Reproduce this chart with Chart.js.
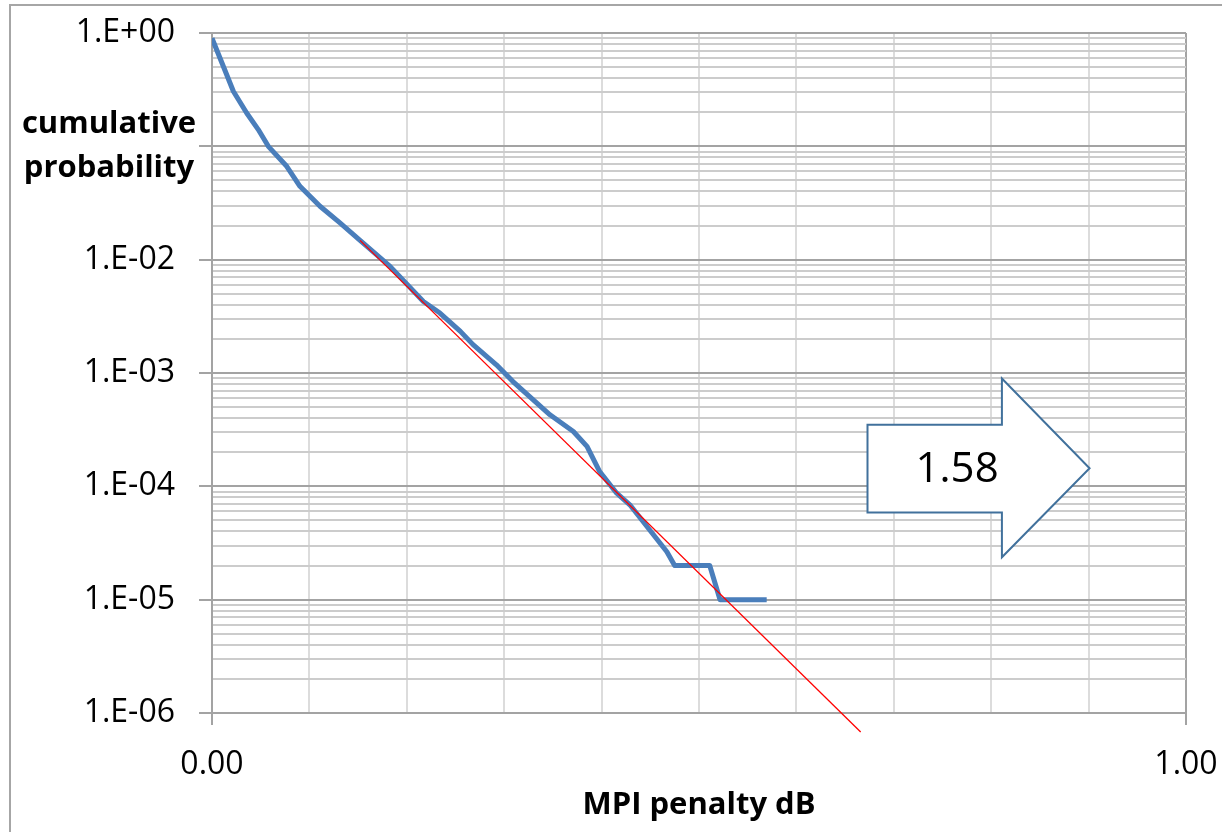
<!DOCTYPE html>
<html>
<head>
<meta charset="utf-8">
<script src="https://cdn.jsdelivr.net/npm/chart.js@4/dist/chart.umd.min.js"></script>
<style>
  html, body { margin: 0; padding: 0; background: #fff; overflow: hidden; }
  #frame { position: absolute; left: 9px; top: 4px; width: 1400px; height: 1000px; border: 2px solid #a6a6a6; }
  #c { position: absolute; left: 0; top: 0; }
</style>
</head>
<body>
<div id="frame"></div>
<canvas id="c" width="1222" height="832"></canvas>
<script>
// ---- data ----
const penaltyDb = [0, 0.0116, 0.0219, 0.0356, 0.0475, 0.0578, 0.0767, 0.0903, 0.1109, 0.1314, 0.152, 0.1828, 0.217, 0.234, 0.255, 0.268, 0.292, 0.309, 0.347, 0.371, 0.385, 0.398, 0.4155, 0.429, 0.467, 0.475, 0.511, 0.5216, 0.5695];
const cumProb = [0.9, 0.509, 0.306, 0.197, 0.1406, 0.1, 0.0667, 0.0444, 0.0296, 0.0211, 0.0148, 0.00873, 0.00428, 0.00338, 0.00233, 0.00178, 0.00118, 0.00084, 0.000428, 0.000305, 0.000225, 0.000135, 8.7e-5, 6.87e-5, 2.65e-5, 2e-5, 2e-5, 1e-5, 1e-5];
const fitX = [0.152, 0.666];
const fitY = [0.0148, 6.8e-7];
const yTickValues = [1e-6, 1e-5, 1e-4, 1e-3, 1e-2, 1e-1, 1];
const yTickLabels = ['1.E-06', '1.E-05', '1.E-04', '1.E-03', '1.E-02', '', '1.E+00'];
const xTickValues = [0, 1];
const xTickLabels = ['0.00', '1.00'];
const yTitleLines = ['cumulative', 'probability'];
const xTitle = 'MPI penalty dB';
const arrowLabel = '1.58';

// ---- helpers ----
const isDecade = v => { const e = Math.log10(v); return Math.abs(e - Math.round(e)) < 1e-6; };
const isXMajor = v => xTickValues.some(t => Math.abs(t - v) < 1e-6);

const FONT = "'Open Sans', 'DejaVu Sans', sans-serif";
Chart.defaults.font.family = FONT;

const yTitlePlugin = {
  id: 'yTitle',
  afterDraw(chart) {
    const ctx = chart.ctx, a = chart.chartArea;
    ctx.save();
    ctx.font = "bold 31px " + FONT;
    ctx.fillStyle = '#000';
    ctx.textAlign = 'center';
    ctx.textBaseline = 'alphabetic';
    const cx = a.left - 103;
    yTitleLines.forEach((t, i) => ctx.fillText(t, cx, 133 + i * 44));
    ctx.restore();
  }
};

const arrowPlugin = {
  id: 'arrowBox',
  afterDatasetsDraw(chart) {
    const ctx = chart.ctx, a = chart.chartArea;
    const W = a.right - a.left, H = a.bottom - a.top;
    const X = f => a.left + f * W, Y = f => a.top + f * H;
    const left = 0.673, neck = 0.811, tip = 0.901;
    const bTop = 0.576, bBot = 0.705, hTop = 0.508, hBot = 0.771, tipY = 0.640;
    ctx.save();
    ctx.beginPath();
    ctx.moveTo(X(left), Y(bTop));
    ctx.lineTo(X(neck), Y(bTop));
    ctx.lineTo(X(neck), Y(hTop));
    ctx.lineTo(X(tip), Y(tipY));
    ctx.lineTo(X(neck), Y(hBot));
    ctx.lineTo(X(neck), Y(bBot));
    ctx.lineTo(X(left), Y(bBot));
    ctx.closePath();
    ctx.fillStyle = '#ffffff';
    ctx.fill();
    ctx.lineWidth = 2;
    ctx.strokeStyle = '#41719c';
    ctx.lineJoin = 'miter';
    ctx.stroke();
    ctx.font = "42px " + FONT;
    ctx.fillStyle = '#000';
    ctx.textAlign = 'center';
    ctx.textBaseline = 'middle';
    ctx.fillText(arrowLabel, X(0.765), Y(0.642));
    ctx.restore();
  }
};

new Chart(document.getElementById('c'), {
  type: 'scatter',
  data: {
    datasets: [
      {
        label: 'fit',
        data: fitX.map((x, i) => ({ x, y: fitY[i] })),
        showLine: true,
        borderColor: '#ff0000',
        borderWidth: 1.3,
        pointRadius: 0,
        clip: false,
        order: 0
      },
      {
        label: 'cumulative probability',
        data: penaltyDb.map((x, i) => ({ x, y: cumProb[i] })),
        showLine: true,
        borderColor: '#4a7ebb',
        borderWidth: 5,
        borderJoinStyle: 'round',
        borderCapStyle: 'butt',
        pointRadius: 0,
        tension: 0,
        order: 1
      }
    ]
  },
  options: {
    responsive: false,
    animation: false,
    events: [],
    layout: { padding: { top: 33, right: 36, left: 0, bottom: 0 } },
    plugins: { legend: { display: false }, tooltip: { enabled: false } },
    scales: {
      x: {
        type: 'linear',
        min: 0, max: 1,
        afterFit: s => { s.height = 119; s.paddingLeft = 0; s.paddingRight = 0; },
        ticks: {
          stepSize: 0.1,
          autoSkip: false,
          maxRotation: 0,
          padding: 21,
          color: '#000',
          font: { size: 32 },
          callback: v => { const i = xTickValues.findIndex(t => Math.abs(t - v) < 1e-6); return i >= 0 ? xTickLabels[i] : ''; }
        },
        grid: {
          color: c => isXMajor(c.tick.value) ? '#a3a3a3' : '#dcdcdc',
          lineWidth: 2,
          tickColor: c => isXMajor(c.tick.value) ? '#a3a3a3' : 'rgba(0,0,0,0)',
          tickLength: 12
        },
        border: { display: true, color: '#a3a3a3', width: 2 },
        title: { display: true, text: xTitle, color: '#000', font: { size: 31, weight: 'bold' }, padding: { top: 0, bottom: 8 } }
      },
      y: {
        type: 'logarithmic',
        min: 1e-6, max: 1,
        afterFit: s => { s.width = 212; s.paddingTop = 0; s.paddingBottom = 0; },
        afterBuildTicks: s => {
          const t = [];
          for (let e = -6; e <= 0; e++) {
            for (let m = 1; m <= 9; m++) {
              if (e === 0 && m > 1) break;
              t.push({ value: m * Math.pow(10, e) });
            }
          }
          s.ticks = t;
        },
        ticks: {
          autoSkip: false,
          padding: 24,
          color: '#000',
          font: { size: 32 },
          callback: v => { const i = yTickValues.findIndex(t => Math.abs(Math.log10(t) - Math.log10(v)) < 1e-6); return i >= 0 ? yTickLabels[i] : ''; }
        },
        grid: {
          color: c => isDecade(c.tick.value) ? '#a3a3a3' : '#cccccc',
          lineWidth: 2,
          tickColor: c => isDecade(c.tick.value) ? '#a3a3a3' : 'rgba(0,0,0,0)',
          tickLength: 13
        },
        border: { display: true, color: '#a3a3a3', width: 2 }
      }
    }
  },
  plugins: [yTitlePlugin, arrowPlugin]
});
</script>
</body>
</html>
